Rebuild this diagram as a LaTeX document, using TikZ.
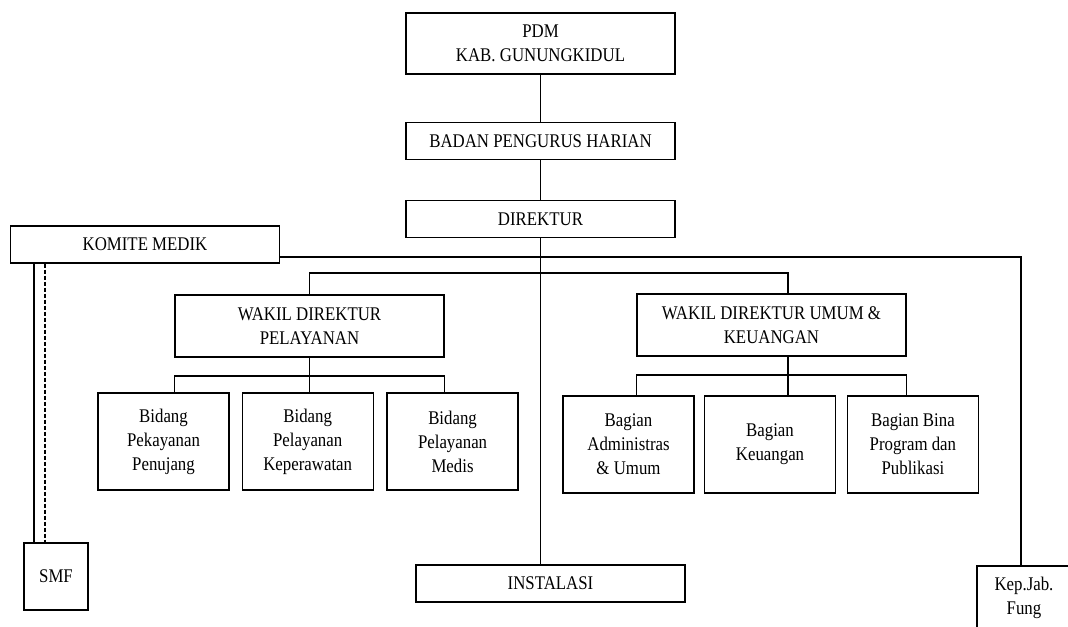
\documentclass[tikz,border=0pt]{standalone}
\usepackage{fontspec}
\setmainfont{Liberation Serif}[FakeStretch=0.87]
\usetikzlibrary{positioning}

\begin{document}
\begin{tikzpicture}
[
x=0.75pt, y=-0.75pt,
box-a/.style={draw, line width=0.9pt, inner sep=0pt, align=center, font=\fontsize{14.5}{18}\selectfont, minimum width=201.75pt},
box-b/.style={box-a, minimum width=98.25pt, minimum height=72.75pt},
line-a/.style={line width=0.9pt}
]
\clip (0,0) rectangle (1068,626);
\node (pdm)    [box-a, minimum height=45.75pt] at (540.5,43.5) {PDM\\KAB. GUNUNGKIDUL};
\node (bph)    [box-a, minimum height=27.75pt, below = 35.25pt of pdm] {BADAN PENGURUS HARIAN};
\node (dir)    [box-a, minimum height=27.75pt, below = 30pt of bph] {DIREKTUR};
\node (komite) [box-a, minimum height=27.75pt] at (145,244.5) {KOMITE MEDIK};
\node (wpel)   [box-a, minimum height=46.5pt] at (309.5,326) {WAKIL DIREKTUR\\PELAYANAN};
\node (wumum)  [box-a, minimum height=46.5pt] at (771.5,325) {WAKIL DIREKTUR UMUM \&\\KEUANGAN};
\node (bp1)    [box-b] at (163.5,441.5) {Bidang\\Pekayanan\\Penujang};
\node (bp2)    [box-b, right = 9pt of bp1] {Bidang\\Pelayanan\\Keperawatan};
\node (bp3)    [box-b, right = 9.5pt of bp2] {Bidang\\Pelayanan\\Medis};
\node (bu1)    [box-b] at (628.5,444.5) {Bagian\\Administras\\\& Umum};
\node (bu2)    [box-b, right = 7pt of bu1] {Bagian\\Keuangan};
\node (bu3)    [box-b, right = 8pt of bu2] {Bagian Bina\\Program dan\\Publikasi};
\node (inst)   [box-a, minimum height=27.75pt] at (550.5,583.5) {INSTALASI};
\node (smf)    [box-a, minimum width=48pt, minimum height=50.25pt] at (56,576.5) {SMF};
\node (kep)    [box-a, minimum width=70.5pt, minimum height=48pt] at (1024,598) {Kep.Jab.\\Fung};

% garis komando
\draw[line-a] (pdm) -- (bph);
\draw[line-a] (bph) -- (dir);
\draw[line-a] (dir.south) -- (dir.south |- inst.north);
\coordinate (kep-in) at (1021,257);
\draw[line-a] (komite.east |- kep-in) -- (kep-in) -- (kep-in |- kep.north);
\coordinate (wk-bus) at (788,273);
\draw[line-a] (wpel.north) |- (wk-bus) -- (wk-bus |- wumum.north);

% bidang pelayanan
\coordinate (pel-bus) at (0,376);
\draw[line-a] (bp1.north -| wpel.west) |- (pel-bus -| wpel.south) -| (bp3.north -| wpel.east);
\draw[line-a] (wpel.south) -- (wpel.south |- bp2.north);

% bagian umum
\coordinate (um-bus) at (788,375);
\draw[line-a] (bu1.north -| wumum.west) |- (um-bus) -| (bu3.north -| wumum.east);
\draw[line-a] (wumum.south -| um-bus) -- (bu2.north -| um-bus);

% komite medik ke smf
\coordinate (smf-a) at (34,0);
\coordinate (smf-b) at (45,0);
\draw[line-a] (komite.south -| smf-a) -- (smf.north -| smf-a);
\draw[line-a, dash pattern=on 3pt off 1.5pt] (komite.south -| smf-b) -- (smf.north -| smf-b);
\end{tikzpicture}
\end{document}
